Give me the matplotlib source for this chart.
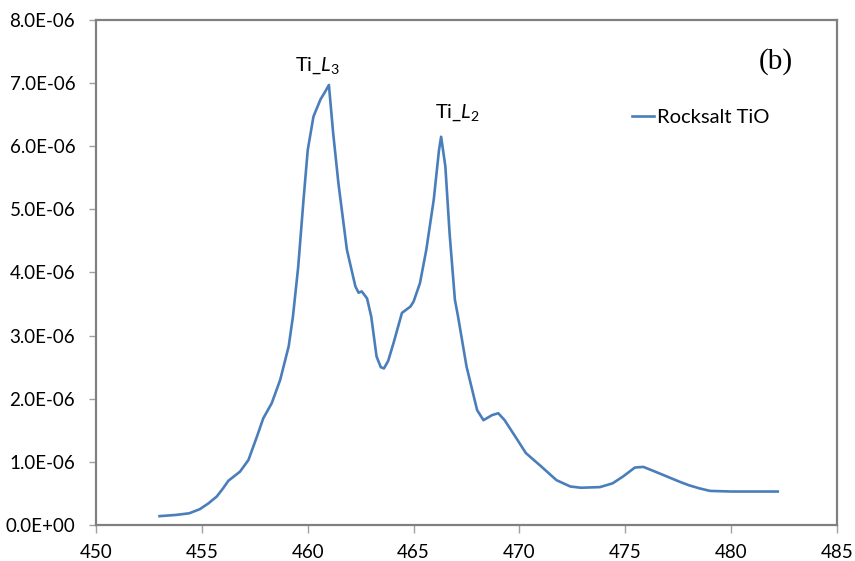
import numpy as np
import matplotlib
matplotlib.use("Agg")
import matplotlib.pyplot as plt
import matplotlib.ticker as ticker

plt.rcParams["font.family"] = ["Lato", "DejaVu Sans"]
plt.rcParams["mathtext.fontset"] = "custom"
plt.rcParams["mathtext.rm"] = "Lato"
plt.rcParams["mathtext.it"] = "Lato:italic"

# energy (eV) and intensity (x1e-6)
energy = [453.0, 453.8, 454.4, 454.9, 455.3, 455.7, 456.0, 456.25, 456.8, 457.2,
          457.6, 457.9, 458.3, 458.7, 459.1, 459.3, 459.55, 459.8, 460.0, 460.27,
          460.6, 460.85, 461.0, 461.2, 461.45, 461.85, 462.25, 462.4, 462.55, 462.8,
          463.0, 463.25, 463.45, 463.6, 463.8, 464.05, 464.45, 464.85, 465.0, 465.3,
          465.6, 465.95, 466.2, 466.3, 466.5, 466.7, 466.95, 467.1, 467.5, 468.0,
          468.3, 468.7, 469.0, 469.3, 469.9, 470.3, 470.95, 471.75, 472.4, 472.9,
          473.8, 474.4, 474.9, 475.45, 475.85, 476.3, 476.95, 477.6, 478.0, 478.5,
          479.0, 480.0, 482.2]
intensity = [0.14, 0.16, 0.185, 0.25, 0.34, 0.45, 0.58, 0.70, 0.845, 1.03,
             1.40, 1.69, 1.93, 2.30, 2.83, 3.30, 4.09, 5.15, 5.94, 6.47,
             6.74, 6.88, 6.97, 6.21, 5.41, 4.36, 3.78, 3.68, 3.70, 3.59,
             3.30, 2.67, 2.50, 2.48, 2.60, 2.88, 3.36, 3.46, 3.54, 3.83,
             4.36, 5.15, 5.94, 6.15, 5.68, 4.62, 3.57, 3.30, 2.51, 1.82,
             1.66, 1.74, 1.77, 1.66, 1.35, 1.14, 0.95, 0.71, 0.61, 0.59,
             0.60, 0.66, 0.77, 0.91, 0.92, 0.86, 0.77, 0.68, 0.63, 0.58,
             0.54, 0.53, 0.53]

series_label = "Rocksalt TiO"
peak_labels = [r"Ti_$\mathit{L}_3$", r"Ti_$\mathit{L}_2$"]
peak_pos = [(460.45, 7.28e-6), (467.05, 6.53e-6)]

fig = plt.figure(figsize=(8.55, 5.61), dpi=100)
ax = fig.add_axes([0.1123, 0.0642, 0.8667, 0.9002])

y = np.array(intensity) * 1e-6
ax.plot(energy, y, color="#4A7EBB", linewidth=1.9, label=series_label,
        solid_joinstyle="round")

ax.set_xlim(450, 485)
ax.set_ylim(0, 8e-6)
ax.xaxis.set_major_locator(ticker.MultipleLocator(5))
ax.yaxis.set_major_locator(ticker.MultipleLocator(1e-6))
ax.yaxis.set_major_formatter(ticker.FuncFormatter(lambda v, p: f"{v:.1E}"))

for s in ax.spines.values():
    s.set_color("#808080")
    s.set_linewidth(1.6)
ax.tick_params(axis="both", direction="out", color="#a0a0a0", width=1, labelsize=13.5)
ax.tick_params(axis="x", length=6, pad=8)
ax.tick_params(axis="y", length=5, pad=10)

for lab, (px, py) in zip(peak_labels, peak_pos):
    ax.text(px, py, lab, ha="center", va="center", fontsize=14.5)

ax.text(482.1, 7.34e-6, "(b)", ha="center", va="center", fontsize=21,
        family="Liberation Serif")

ax.legend(loc="center left", bbox_to_anchor=(0.723, 0.806), frameon=False,
          fontsize=14.5, handlelength=1.1, handletextpad=0.15,
          borderpad=0, borderaxespad=0)

fig.savefig("out.png", dpi=100)
